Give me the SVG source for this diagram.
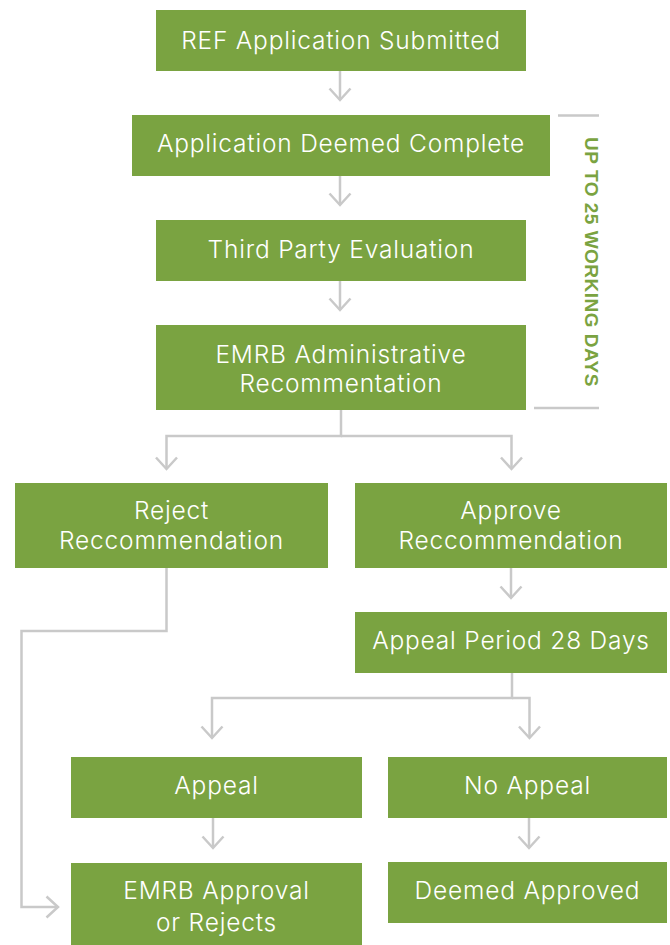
<svg xmlns="http://www.w3.org/2000/svg" width="670" height="945" viewBox="0 0 670 945">
<defs>
<style>
.box{fill:#7aa341}
.lbl{fill:#ffffff;font-family:Inter,"Liberation Sans",sans-serif;font-size:24.5px;font-weight:300;letter-spacing:0.8px;text-anchor:middle}
.con{fill:none;stroke:#c9c9c9;stroke-width:2.5}
.brk{fill:none;stroke:#c9c9c9;stroke-width:2.5}
.side{fill:#7aa341;font-family:"Liberation Sans",Arial,sans-serif;font-weight:bold;font-size:19px;letter-spacing:0.5px;text-anchor:middle}
</style>
<marker id="chev" markerUnits="userSpaceOnUse" markerWidth="30" markerHeight="30" viewBox="-15 -15 30 30" refX="0" refY="0" orient="auto" overflow="visible">
<path d="M-11.5,-10.5 L0,0 L-11.5,10.5" fill="none" stroke="#c9c9c9" stroke-width="2.5"/>
</marker>
</defs>
<rect width="670" height="945" fill="#ffffff"/>
<g id="connectors">
<path class="con" d="M340,71 V100" marker-end="url(#chev)"/>
<path class="con" d="M340,176 V205" marker-end="url(#chev)"/>
<path class="con" d="M340,281 V310" marker-end="url(#chev)"/>
<path class="con" d="M341,410 V436 H166.5 V469" marker-end="url(#chev)"/>
<path class="con" d="M341,436 H511.5 V469" marker-end="url(#chev)"/>
<path class="con" d="M511,568 V598" marker-end="url(#chev)"/>
<path class="con" d="M512,673 V698 H212 V738" marker-end="url(#chev)"/>
<path class="con" d="M512,698 H529.5 V738" marker-end="url(#chev)"/>
<path class="con" d="M213,818 V848" marker-end="url(#chev)"/>
<path class="con" d="M529,818 V848" marker-end="url(#chev)"/>
<path class="con" d="M166.5,568 V631 H21.5 V907 H58" marker-end="url(#chev)"/>
</g>
<g id="timeframe">
<path class="brk" d="M558,115.5 H599"/>
<path class="brk" d="M534,408 H599"/>
<text class="side" transform="translate(585,262) rotate(90)" x="0" y="0">UP TO 25 WORKING DAYS</text>
</g>
<g id="n-submitted">
<rect class="box" x="156" y="10" width="370" height="61"/>
<text class="lbl" x="341" y="48.5">REF Application Submitted</text>
</g>
<g id="n-complete">
<rect class="box" x="132" y="115" width="418" height="61"/>
<text class="lbl" x="341" y="152">Application Deemed Complete</text>
</g>
<g id="n-evaluation">
<rect class="box" x="156" y="220" width="370" height="61"/>
<text class="lbl" x="341" y="257.5">Third Party Evaluation</text>
</g>
<g id="n-admin">
<rect class="box" x="156" y="325" width="370" height="85"/>
<text class="lbl" x="341" y="362.5">EMRB Administrative</text>
<text class="lbl" x="341" y="391.5">Recommentation</text>
</g>
<g id="n-reject">
<rect class="box" x="15" y="483" width="313" height="85"/>
<text class="lbl" x="171.5" y="519">Reject</text>
<text class="lbl" x="171.5" y="549">Reccommendation</text>
</g>
<g id="n-approve">
<rect class="box" x="355" y="483" width="312" height="85"/>
<text class="lbl" x="511" y="519">Approve</text>
<text class="lbl" x="511" y="549">Reccommendation</text>
</g>
<g id="n-period">
<rect class="box" x="355" y="612" width="312" height="61"/>
<text class="lbl" x="511" y="649">Appeal Period 28 Days</text>
</g>
<g id="n-appeal">
<rect class="box" x="71" y="757" width="291" height="61"/>
<text class="lbl" x="216.5" y="794">Appeal</text>
</g>
<g id="n-noappeal">
<rect class="box" x="388" y="757" width="279" height="61"/>
<text class="lbl" x="527.5" y="794">No Appeal</text>
</g>
<g id="n-emrb">
<rect class="box" x="71" y="863" width="291" height="82"/>
<text class="lbl" x="216.5" y="899">EMRB Approval</text>
<text class="lbl" x="216.5" y="930.5">or Rejects</text>
</g>
<g id="n-deemed">
<rect class="box" x="388" y="862" width="279" height="61"/>
<text class="lbl" x="527.5" y="899">Deemed Approved</text>
</g>
</svg>
